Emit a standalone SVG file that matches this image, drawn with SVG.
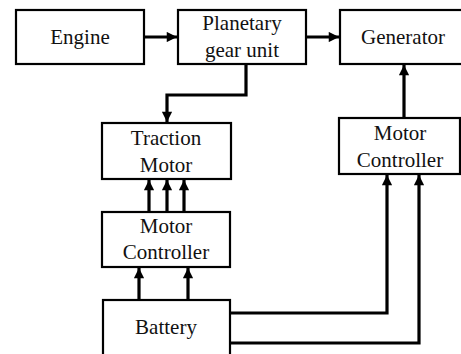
<svg xmlns="http://www.w3.org/2000/svg" width="461" height="354" viewBox="0 0 461 354">
<style>
.box{fill:#fff;stroke:#000;stroke-width:2.2}
.t{font-family:'Liberation Serif','DejaVu Serif','Times New Roman',Times,serif;font-size:21px;fill:#111;text-anchor:middle}
.c{fill:none;stroke:#000;stroke-width:3.2;stroke-linejoin:miter}
</style>
<defs>
<marker id="ah" viewBox="0 0 10 10" refX="10" refY="5" markerWidth="3.6" markerHeight="3.2" orient="auto" markerUnits="strokeWidth">
<path d="M0,0 L10,5 L0,10 z" fill="#000"/>
</marker>
</defs>
<rect width="461" height="354" fill="#fff"/>
<g id="connectors">
<path class="c" d="M144,37 H177" marker-end="url(#ah)"/>
<path class="c" d="M306,37 H339" marker-end="url(#ah)"/>
<path class="c" d="M246,64 V95 H167 V122" marker-end="url(#ah)"/>
<path class="c" d="M404,118 V65" marker-end="url(#ah)"/>
<path class="c" d="M149,212 V180" marker-end="url(#ah)"/>
<path class="c" d="M167,212 V180" marker-end="url(#ah)"/>
<path class="c" d="M184,212 V180" marker-end="url(#ah)"/>
<path class="c" d="M139,300 V268" marker-end="url(#ah)"/>
<path class="c" d="M188,300 V268" marker-end="url(#ah)"/>
<path class="c" d="M230,313 H387 V175" marker-end="url(#ah)"/>
<path class="c" d="M230,343 H419 V175" marker-end="url(#ah)"/>
</g>
<g id="engine">
<rect class="box" x="16" y="10" width="128" height="54"/>
<text class="t" x="80" y="44" font-family="Liberation Serif, serif">Engine</text>
</g>
<g id="planetary">
<rect class="box" x="178" y="10" width="128" height="54"/>
<text class="t" x="242" y="30">Planetary</text>
<text class="t" x="242" y="57">gear unit</text>
</g>
<g id="generator">
<rect class="box" x="340" y="10" width="124" height="54"/>
<text class="t" x="403" y="44">Generator</text>
</g>
<g id="traction">
<rect class="box" x="102" y="123" width="129" height="56"/>
<text class="t" x="166" y="145">Traction</text>
<text class="t" x="166" y="172">Motor</text>
</g>
<g id="controller-left">
<rect class="box" x="102" y="212" width="128" height="55"/>
<text class="t" x="166" y="233">Motor</text>
<text class="t" x="166" y="259">Controller</text>
</g>
<g id="battery">
<rect class="box" x="103" y="300" width="127" height="60"/>
<text class="t" x="166" y="334">Battery</text>
</g>
<g id="controller-right">
<rect class="box" x="339" y="118" width="121" height="56"/>
<text class="t" x="400" y="140">Motor</text>
<text class="t" x="400" y="167">Controller</text>
</g>
</svg>
